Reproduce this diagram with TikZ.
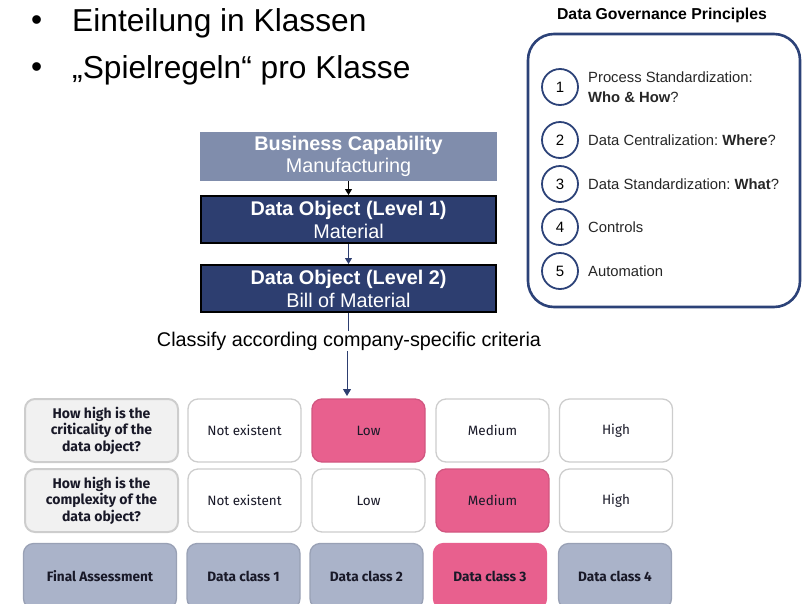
\documentclass[tikz,border=0pt]{standalone}
\usepackage{fontspec}
\setmainfont{Liberation Sans}
\newfontfamily\fira{Fira Sans}
\newfontfamily\robo{Liberation Sans}
\usetikzlibrary{arrows.meta}
\definecolor{navy}{RGB}{45,62,112}
\definecolor{capfill}{RGB}{128,141,172}
\definecolor{pinkc}{RGB}{232,96,142}
\definecolor{grayblue}{RGB}{170,179,201}
\definecolor{lightg}{RGB}{241,241,241}
\definecolor{cellb}{RGB}{205,205,205}
\definecolor{ringc}{RGB}{44,66,120}
\definecolor{celltext}{RGB}{25,25,40}
\tikzset{
  x=1pt,y=-1pt,
  bigbox/.style={draw=black,line width=2pt,fill=navy,text=white,minimum width=295pt,minimum height=47pt,inner sep=0pt,align=center,font=\fontsize{19.8}{23}\selectfont},
  capbox/.style={fill=capfill,text=white,minimum width=297pt,minimum height=49pt,inner sep=0pt,align=center,font=\fontsize{19.8}{24}\selectfont},
  cell/.style={draw=cellb,line width=1.3pt,rounded corners=10pt,minimum width=113pt,minimum height=63pt,inner sep=0pt,align=center,text=celltext,font=\fira\fontsize{13.5}{15}\selectfont},
  qcell/.style={cell,fill=lightg,line width=2pt,minimum width=153pt,font=\fira\bfseries\fontsize{14}{16.5}\selectfont},
  pcell/.style={cell,fill=pinkc,draw=pinkc!90!black},
  wcell/.style={cell,fill=white},
  ccell/.style={cell,draw=grayblue!90!black,fill=grayblue,minimum height=65pt,font=\fira\bfseries\fontsize{13.6}{15}\selectfont},
  pccell/.style={ccell,fill=pinkc,draw=pinkc},
  ring/.style={circle,draw=ringc,line width=1.8pt,minimum size=36pt,inner sep=0pt,font=\robo\fontsize{15}{16}\selectfont},
  ptext/.style={anchor=west,inner sep=0pt,align=left,font=\robo\fontsize{14.8}{20}\selectfont,text=black!85},
  bullet/.style={anchor=west,inner sep=0pt,font=\fontsize{31.7}{34}\selectfont}
}
\begin{document}
\begin{tikzpicture}
\useasboundingbox (0,0) rectangle (803,603);
\clip (0,0) rectangle (803,603);
% bullets
\node[bullet] (b1) at (31,23) {•};
\node[bullet] (t1) at (72,23) {Einteilung in Klassen};
\node[bullet] (b2) at (31,70) {•};
\node[bullet] (t2) at (72,70) {„Spielregeln“ pro Klasse};
% principles
\node[font=\robo\bfseries\fontsize{15.8}{17}\selectfont] (ptitle) at (662,15) {Data Governance Principles};
\draw[ringc,line width=2.6pt,rounded corners=26pt] (528,34) rectangle (800,307);
\node[ring] (r1) at (560,87) {1};
\node[ring] (r2) at (560,140) {2};
\node[ring] (r3) at (560,184) {3};
\node[ring] (r4) at (560,227) {4};
\node[ring] (r5) at (560,271) {5};
\node[ptext] (p1) at (588,87) {Process Standardization:\\\textbf{Who \& How}?};
\node[ptext] (p2) at (588,140) {Data Centralization:~\textbf{Where}?};
\node[ptext] (p3) at (588,184) {Data Standardization:~\textbf{What}?};
\node[ptext] (p4) at (588,227) {Controls};
\node[ptext] (p5) at (588,271) {Automation};
% hierarchy
\node[capbox] (cap) at (348.5,156.5) {\raisebox{-2pt}{\textbf{Business Capability}}\\Manufacturing};
\node[bigbox] (do1) at (348.5,219.5) {\textbf{Data Object (Level 1)}\\Material};
\node[bigbox] (do2) at (348.5,288.5) {\textbf{Data Object (Level 2)}\\Bill of Material};
\draw[-{Triangle[length=6pt,width=7pt]},black,line width=1pt] (cap.south) -- (do1.north);
\draw[-{Triangle[length=6pt,width=7pt]},navy,line width=1pt] (do1.south) -- (do2.north);
\node[font=\fontsize{19.8}{22}\selectfont,inner sep=1pt] (cls) at (349,341) {Classify according company-specific criteria};
\draw[navy,line width=1pt] (do2.south) -- (cls.north -| do2.south);
\coordinate (tip) at (347,396);
\draw[navy,line width=1pt,-{Triangle[length=7pt,width=8pt]}] (cls.south -| tip) -- (tip);
% table
\node[qcell] (q1) at (101.5,430.5) {How high is the\\criticality of the\\data object?};
\node[qcell] (q2) at (101.5,500.5) {How high is the\\complexity of the\\data object?};
\node[wcell] (a1) at (244.5,430.5) {Not existent};
\node[pcell] (a2) at (368.5,430.5) {Low};
\node[wcell] (a3) at (492.5,430.5) {Medium};
\node[wcell] (a4) at (616,430.5) {High};
\node[wcell] (c1) at (244.5,500.5) {Not existent};
\node[wcell] (c2) at (368.5,500.5) {Low};
\node[pcell] (c3) at (492.5,500.5) {Medium};
\node[wcell] (c4) at (616,500.5) {High};
\node[ccell,minimum width=153pt] (f0) at (100,576) {Final Assessment};
\node[ccell] (f1) at (243.5,576) {Data class 1};
\node[ccell] (f2) at (366.5,576) {Data class 2};
\node[pccell] (f3) at (490,576) {Data class 3};
\node[ccell] (f4) at (615,576) {Data class 4};
\end{tikzpicture}
\end{document}
